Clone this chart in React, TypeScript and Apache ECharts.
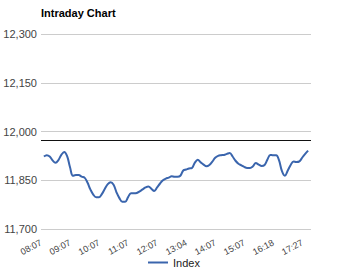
import React, { useEffect, useRef } from "react";
import * as echarts from "echarts";

const tickLabels = ["08:07", "09:07", "10:07", "11:07", "12:07", "13:04", "14:07", "15:07", "16:18", "17:27"];
const indexValues = [
  11923, 11927, 11923, 11911, 11904, 11912, 11928, 11937, 11924, 11890,
  11864, 11866, 11866, 11861, 11858, 11843, 11822, 11806, 11798, 11798,
  11808, 11824, 11838, 11844, 11836, 11813, 11795, 11784, 11784, 11798,
  11810, 11810, 11811, 11816, 11822, 11828, 11831, 11824, 11817, 11828,
  11840, 11850, 11855, 11858, 11862, 11861, 11861, 11864, 11880, 11883,
  11886, 11888, 11904, 11913, 11905, 11898, 11893, 11897, 11907, 11919,
  11925, 11927, 11928, 11931, 11934, 11923, 11910, 11901, 11896, 11891,
  11888, 11888, 11893, 11903, 11898, 11894, 11897, 11914, 11928, 11927,
  11927, 11911, 11878, 11864, 11880, 11897, 11908, 11906, 11908, 11920,
  11931, 11941,
];
const referenceLevel = 11973;
const labelEvery = 10;

export default function App() {
  const ref = useRef<HTMLDivElement>(null);
  useEffect(() => {
    if (!ref.current) return;
    document.body.style.margin = "0";
    const chart = echarts.init(ref.current, null, { renderer: "svg" });
    // first category is the 08:07 tick; the line starts one slot later and
    // one empty slot is left after the last point
    const categories: string[] = [];
    const data: (number | null)[] = [null, ...indexValues, null];
    data.forEach((_, j) => {
      categories.push(j % labelEvery === 0 ? tickLabels[j / labelEvery] ?? "" : "");
    });
    const font = "Arial, 'Liberation Sans', sans-serif";
    chart.setOption({
      animation: false,
      title: {
        text: "Intraday Chart",
        left: 41,
        top: 7,
        padding: 0,
        textStyle: { fontSize: 11, fontWeight: "bold", color: "#000", fontFamily: font },
      },
      legend: {
        left: 148,
        top: 257,
        padding: 0,
        icon: "rect",
        itemWidth: 20,
        itemHeight: 2,
        textStyle: { fontSize: 11, color: "#222", fontFamily: font },
        data: ["Index"],
      },
      grid: { left: 41, right: 40, top: 34, bottom: 40, containLabel: false },
      xAxis: {
        type: "category",
        data: categories,
        boundaryGap: false,
        axisLine: { show: false },
        axisTick: { show: false },
        splitLine: { show: false },
        axisLabel: {
          interval: (idx: number) => idx % labelEvery === 0 && idx / labelEvery < tickLabels.length,
          rotate: 28,
          margin: 13,
          fontSize: 9,
          color: "#444",
          fontFamily: font,
        },
      },
      yAxis: {
        type: "value",
        min: 11700,
        max: 12300,
        interval: 150,
        axisLine: { show: false },
        axisTick: { show: false },
        splitLine: { lineStyle: { color: "#cccccc", width: 1 } },
        axisLabel: {
          margin: 4,
          fontSize: 11,
          color: "#444",
          fontFamily: font,
          formatter: (v: number) => v.toLocaleString("en-US"),
        },
      },
      series: [
        {
          name: "Index",
          type: "line",
          data,
          smooth: 0.4,
          symbol: "none",
          showSymbol: false,
          connectNulls: false,
          lineStyle: { color: "#3a65ad", width: 2 },
          itemStyle: { color: "#3a65ad" },
          markLine: {
            silent: true,
            symbol: "none",
            label: { show: false },
            lineStyle: { color: "#111", width: 1, type: "solid" },
            data: [{ yAxis: referenceLevel }],
          },
        },
      ],
    });
    return () => chart.dispose();
  }, []);
  return <div ref={ref} style={{ width: 351, height: 269 }} />;
}
